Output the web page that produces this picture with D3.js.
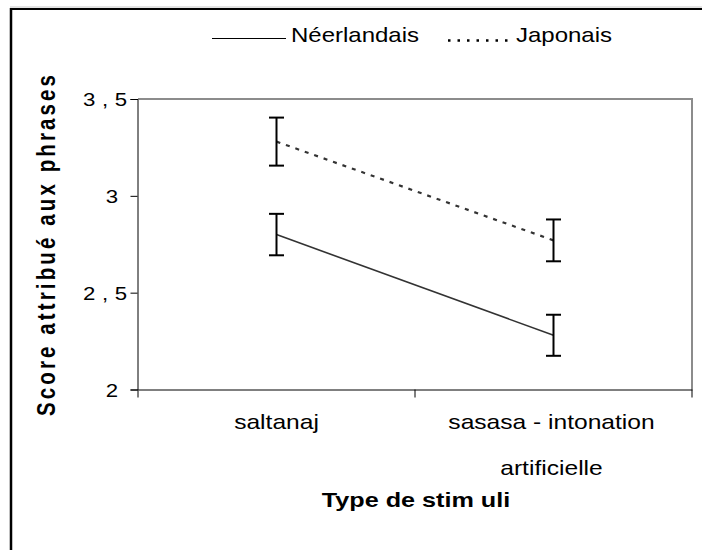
<!DOCTYPE html>
<html>
<head>
<meta charset="utf-8">
<script src="https://cdnjs.cloudflare.com/ajax/libs/d3/7.8.5/d3.min.js"></script>
<style>
  body { margin: 0; background: #fff; }
  text { font-family: "Liberation Sans", Arial, sans-serif; fill: #000; }
</style>
</head>
<body>
<script>
// data
var categories = ["saltanaj", "sasasa - intonation artificielle"];
var categoryLines = [["saltanaj"], ["sasasa - intonation", "artificielle"]];
var seriesNames = ["Néerlandais", "Japonais"];
var neerlandais = [2.80, 2.28];
var neerlandaisErr = [0.107, 0.106];
var japonais = [3.28, 2.77];
var japonaisErr = [0.124, 0.108];
var yTicks = [2, 2.5, 3, 3.5];
var yTickLabels = ["2", "2,5", "3", "3,5"];

var width = 702, height = 550,
    sx = 1.2; // the original figure is stretched sideways

var svg = d3.select("body").append("svg")
    .attr("width", width)
    .attr("height", height);

// outer frame (only top and left survive in the crop)
svg.append("line").attr("x1", 10).attr("x2", width).attr("y1", 7).attr("y2", 7)
    .attr("stroke", "#c8c8c8").attr("stroke-width", 1);
svg.append("line").attr("x1", 10).attr("x2", width).attr("y1", 9).attr("y2", 9)
    .attr("stroke", "#000").attr("stroke-width", 2);
svg.append("line").attr("x1", 11).attr("x2", 11).attr("y1", 8).attr("y2", height)
    .attr("stroke", "#000").attr("stroke-width", 2.5);

var x = d3.scaleBand().domain(categories).range([138, 692]).padding(0);
var y = d3.scaleLinear().domain([2, 3.5]).range([389.5, 99]);
var cx = function(c) { return x(c) + x.bandwidth() / 2; };

function label(g, px, py, txt, size, weight, anchor) {
  return g.append("text")
      .attr("transform", "translate(" + px + "," + py + ") scale(" + sx + ",1)")
      .attr("text-anchor", anchor || "start")
      .style("font-size", size + "px")
      .style("font-weight", weight || "normal")
      .text(txt);
}

// plot border, top and right grey
svg.append("path")
    .attr("d", "M138," + y(3.5) + "H692V" + y(2))
    .attr("fill", "none")
    .attr("stroke", "#8c8c8c")
    .attr("stroke-width", 2);

// y axis
var yAxis = svg.append("g")
    .attr("transform", "translate(137.5,0)")
    .call(d3.axisLeft(y).tickValues(yTicks).tickSize(7).tickFormat(""));
yAxis.selectAll("path, line").attr("stroke", "#000");
yAxis.selectAll(".tick").each(function(d, i) {
  var t = yTickLabels[i];
  var txt = label(d3.select(this), t.length > 1 ? -10.5 : -19.5, 6.5, t, 18.5, "normal", "end");
  if (t.length > 1) txt.attr("textLength", 44 / sx).attr("lengthAdjust", "spacing");
});

// x axis, ticks at band edges
var xEdges = categories.map(function(c) { return x(c); }).concat([x.range()[1]]);
var xAxis = svg.append("g")
    .attr("transform", "translate(0,389.5)")
    .call(d3.axisBottom(d3.scaleLinear().domain([0, 1]).range(x.range()))
      .tickValues([]).tickSizeOuter(0));
xAxis.select("path").attr("stroke", "#000");
xAxis.selectAll("line.edge").data(xEdges).enter().append("line")
    .attr("class", "edge")
    .attr("x1", function(d) { return d; }).attr("x2", function(d) { return d; })
    .attr("y1", 0).attr("y2", 8)
    .attr("stroke", "#000");

categoryLines.forEach(function(lines, i) {
  lines.forEach(function(t, j) {
    label(svg, cx(categories[i]) - 2 * i, 429 + j * 46, t, 20.5, "normal", "middle");
  });
});

// axis titles
label(svg, 416, 507, "Type de stim uli", 21, "bold", "middle");
svg.append("text")
    .attr("transform", "translate(55,245.5) scale(" + (sx + 0.1) + ",1) rotate(-90)")
    .attr("text-anchor", "middle")
    .attr("textLength", 341)
    .attr("lengthAdjust", "spacing")
    .style("font-size", "20.5px")
    .style("font-weight", "bold")
    .text("Score attribué aux phrases");

// series
var line = d3.line()
    .x(function(d, i) { return cx(categories[i]); })
    .y(function(d) { return y(d); });

svg.append("path").datum(neerlandais)
    .attr("d", line)
    .attr("fill", "none")
    .attr("stroke", "#333")
    .attr("stroke-width", 1.6);

svg.append("path").datum(japonais)
    .attr("d", line)
    .attr("fill", "none")
    .attr("stroke", "#333")
    .attr("stroke-width", 2.2)
    .attr("stroke-dasharray", "4,6");

function errorBars(vals, errs) {
  var g = svg.append("g").attr("stroke", "#000").attr("stroke-width", 2);
  vals.forEach(function(v, i) {
    var px = cx(categories[i]);
    var top = y(v + errs[i]), bot = y(v - errs[i]);
    g.append("line").attr("x1", px).attr("x2", px).attr("y1", top).attr("y2", bot);
    g.append("line").attr("x1", px - 7.5).attr("x2", px + 7.5).attr("y1", top).attr("y2", top);
    g.append("line").attr("x1", px - 7.5).attr("x2", px + 7.5).attr("y1", bot).attr("y2", bot);
  });
}
errorBars(neerlandais, neerlandaisErr);
errorBars(japonais, japonaisErr);

// legend
svg.append("line").attr("x1", 212).attr("x2", 286).attr("y1", 38.5).attr("y2", 38.5)
    .attr("stroke", "#000").attr("stroke-width", 1.2);
label(svg, 291, 42, seriesNames[0], 20);
svg.append("line").attr("x1", 448).attr("x2", 513).attr("y1", 40.5).attr("y2", 40.5)
    .attr("stroke", "#000").attr("stroke-width", 2.5)
    .attr("stroke-dasharray", "2.5,7");
label(svg, 516, 42, seriesNames[1], 20);
</script>
</body>
</html>
